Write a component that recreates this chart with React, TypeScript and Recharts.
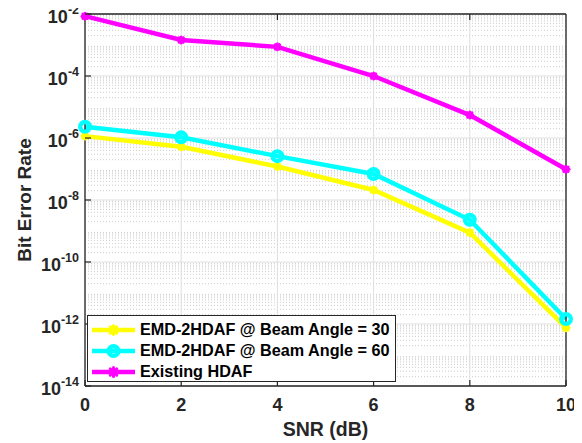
import React from "react";
import { LineChart, Line, XAxis, YAxis, CartesianGrid, Legend } from "recharts";

// values (log scale)
const snrDb = [0, 2, 4, 6, 8, 10];
const berBeam30 = [1.15e-6, 5.2e-7, 1.2e-7, 2.1e-8, 8.9e-10, 7.6e-13];
const berBeam60 = [2.3e-6, 1.05e-6, 2.6e-7, 6.9e-8, 2.3e-9, 1.45e-12];
const berExisting = [8.5e-3, 1.45e-3, 8.7e-4, 1.0e-4, 5.5e-6, 9.8e-8];

const seriesNames = [
  "EMD-2HDAF @ Beam Angle = 30",
  "EMD-2HDAF @ Beam Angle = 60",
  "Existing HDAF",
];
const xTicks = [0, 2, 4, 6, 8, 10];
const yTicks = [1e-2, 1e-4, 1e-6, 1e-8, 1e-10, 1e-12, 1e-14];
const yDomain = [1e-14, 1e-2];
const titleText = "EMD-2HDAF vs SNR Plot";

// minor log ticks 2..9 in every decade
const yMinorTicks: number[] = [];
for (let e = -14; e < -2; e++) {
  for (let m = 2; m <= 9; m++) yMinorTicks.push(m * Math.pow(10, e));
}

const data = snrDb.map((snr, i) => ({
  snr,
  b30: berBeam30[i],
  b60: berBeam60[i],
  ex: berExisting[i],
}));

const YELLOW = "#ffff00";
const CYAN = "#00ffff";
const MAGENTA = "#ff00ff";
const AXIS = "#262626";
const TEXT = "#262626";
const FONT = "'Liberation Sans', Arial, Helvetica, sans-serif";

const StarDot = (props: any) => {
  const { cx, cy, stroke, r = 4.5 } = props;
  if (cx == null || cy == null) return <g key={props.key} />;
  const d = r * 0.72;
  return (
    <g key={props.key} stroke={stroke} strokeWidth={3} strokeLinecap="round">
      <line x1={cx - r} y1={cy} x2={cx + r} y2={cy} />
      <line x1={cx} y1={cy - r} x2={cx} y2={cy + r} />
      <line x1={cx - d} y1={cy - d} x2={cx + d} y2={cy + d} />
      <line x1={cx - d} y1={cy + d} x2={cx + d} y2={cy - d} />
    </g>
  );
};

const CircleDot = (props: any) => {
  const { cx, cy, stroke } = props;
  if (cx == null || cy == null) return <g key={props.key} />;
  return <circle key={props.key} cx={cx} cy={cy} r={4.8} fill="none" stroke={stroke} strokeWidth={4.4} />;
};

// tick labels are drawn only by the main axes; the mirrored ones just draw tick marks
const NoTick = () => <g />;

const YTick = (props: any) => {
  const { x, y, payload } = props;
  const exp = Math.round(Math.log10(payload.value));
  return (
    <g>
      <line x1={x + 6} y1={y} x2={x + 12} y2={y} stroke={AXIS} strokeWidth={1.2} />
      <text x={x} y={y + 9} textAnchor="end" fill={TEXT} fontFamily={FONT} fontWeight="bold" fontSize={18}>
        10
        <tspan dy={-9.5} fontSize={12.5}>
          {exp}
        </tspan>
      </text>
    </g>
  );
};

const XTick = (props: any) => {
  const { x, y, payload } = props;
  return (
    <g>
      <line x1={x} y1={y - 2} x2={x} y2={y - 8} stroke={AXIS} strokeWidth={1.2} />
      <text x={x} y={y + 22.5} textAnchor="middle" fill={TEXT} fontFamily={FONT} fontWeight="bold" fontSize={18}>
        {payload.value}
      </text>
    </g>
  );
};

const legendItems = [
  { name: seriesNames[0], color: YELLOW, Marker: StarDot },
  { name: seriesNames[1], color: CYAN, Marker: CircleDot },
  { name: seriesNames[2], color: MAGENTA, Marker: StarDot },
];

const LegendBox = () => (
  <div
    style={{
      boxSizing: "border-box",
      width: 309,
      height: 67,
      border: `1.3px solid ${AXIS}`,
      background: "#fff",
      padding: "3px 0 0 4px",
    }}
  >
    {legendItems.map((it) => (
      <div key={it.name} style={{ display: "flex", alignItems: "center", height: 21 }}>
        <svg width={43} height={20} style={{ display: "block", overflow: "visible" }}>
          <line x1={0} y1={10} x2={43} y2={10} stroke={it.color} strokeWidth={4.5} />
          <it.Marker cx={21.5} cy={10} stroke={it.color} />
        </svg>
        <span
          style={{
            marginLeft: 5,
            fontFamily: FONT,
            fontWeight: "bold",
            fontSize: 16.2,
            color: "#000",
            whiteSpace: "nowrap",
          }}
        >
          {it.name}
        </span>
      </div>
    ))}
  </div>
);

export default function App() {
  return (
    <div style={{ position: "relative", width: 582, height: 443, marginTop: -8, marginLeft: -8, background: "#fff" }}>
      <LineChart width={582} height={443} data={data} margin={{ top: 14, right: 16, bottom: 0, left: 0 }}>
        <CartesianGrid horizontalValues={yMinorTicks} vertical={false} stroke="#cccccc" strokeDasharray="1 2" />
        <CartesianGrid stroke="#dedede" />

        <XAxis
          dataKey="snr"
          type="number"
          domain={[0, 10]}
          ticks={xTicks}
          interval={0}
          height={57}
          tickSize={0}
          tickMargin={2}
          tickLine={false}
          axisLine={{ stroke: AXIS, strokeWidth: 1.3 }}
          tick={<XTick />}
          label={{
            value: "SNR (dB)",
            position: "insideBottom",
            offset: 7,
            style: { fill: TEXT, fontFamily: FONT, fontWeight: "bold", fontSize: 19.5 },
          }}
        />
        <XAxis
          xAxisId="top"
          orientation="top"
          type="number"
          domain={[0, 10]}
          ticks={xTicks}
          interval={0}
          mirror
          height={1}
          tick={<NoTick />}
          tickSize={6}
          axisLine={{ stroke: AXIS, strokeWidth: 1.3 }}
          tickLine={{ stroke: AXIS, strokeWidth: 1.2 }}
        />

        <YAxis
          type="number"
          scale="log"
          domain={yDomain}
          ticks={yTicks}
          interval={0}
          width={85}
          tickSize={0}
          tickMargin={6}
          tickLine={false}
          axisLine={{ stroke: AXIS, strokeWidth: 1.3 }}
          tick={<YTick />}
          label={{
            value: "Bit Error Rate",
            angle: -90,
            position: "insideLeft",
            offset: 24,
            style: { textAnchor: "middle", fill: TEXT, fontFamily: FONT, fontWeight: "bold", fontSize: 19 },
          }}
        />
        <YAxis
          yAxisId="lMin"
          orientation="left"
          type="number"
          scale="log"
          domain={yDomain}
          ticks={yMinorTicks}
          interval={0}
          mirror
          width={1}
          tick={<NoTick />}
          tickSize={3}
          axisLine={false}
          tickLine={{ stroke: AXIS, strokeWidth: 1 }}
        />
        <YAxis
          yAxisId="rMaj"
          orientation="right"
          type="number"
          scale="log"
          domain={yDomain}
          ticks={yTicks}
          interval={0}
          mirror
          width={1}
          tick={<NoTick />}
          tickSize={6}
          axisLine={{ stroke: AXIS, strokeWidth: 1.3 }}
          tickLine={{ stroke: AXIS, strokeWidth: 1.2 }}
        />
        <YAxis
          yAxisId="rMin"
          orientation="right"
          type="number"
          scale="log"
          domain={yDomain}
          ticks={yMinorTicks}
          interval={0}
          mirror
          width={1}
          tick={<NoTick />}
          tickSize={3}
          axisLine={false}
          tickLine={{ stroke: AXIS, strokeWidth: 1 }}
        />

        <Line
          dataKey="b30"
          name={seriesNames[0]}
          stroke={YELLOW}
          strokeWidth={4.5}
          dot={(p: any) => <StarDot {...p} stroke={YELLOW} />}
          activeDot={false}
          isAnimationActive={false}
        />
        <Line
          dataKey="b60"
          name={seriesNames[1]}
          stroke={CYAN}
          strokeWidth={4.5}
          dot={(p: any) => <CircleDot {...p} stroke={CYAN} />}
          activeDot={false}
          isAnimationActive={false}
        />
        <Line
          dataKey="ex"
          name={seriesNames[2]}
          stroke={MAGENTA}
          strokeWidth={4.5}
          dot={(p: any) => <StarDot {...p} stroke={MAGENTA} />}
          activeDot={false}
          isAnimationActive={false}
        />

        <Legend
          layout="vertical"
          align="center"
          verticalAlign="middle"
          wrapperStyle={{ left: 87, top: 315, width: 309, height: 67 }}
          content={() => <LegendBox />}
        />
      </LineChart>

      {/* title is cut off at the top edge in the reference; only a sliver shows */}
      <div style={{ position: "absolute", top: 3, left: 0, width: 582, height: 3, overflow: "hidden" }}>
        <div
          style={{
            position: "absolute",
            bottom: -2.5,
            left: 207,
            fontFamily: FONT,
            fontWeight: "bold",
            fontSize: 19,
            lineHeight: "19px",
            color: "#777",
            whiteSpace: "nowrap",
          }}
        >
          {titleText}
        </div>
      </div>
    </div>
  );
}
